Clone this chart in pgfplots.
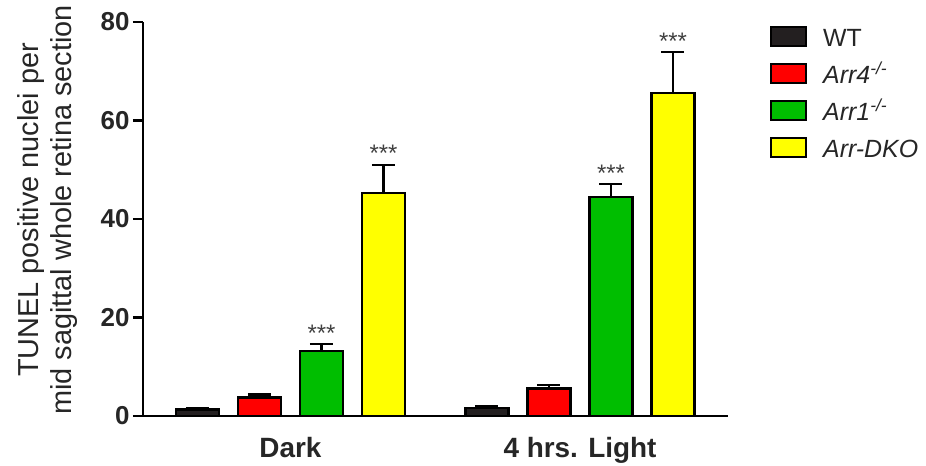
\documentclass[border=0pt]{standalone}
\usepackage{pgfplots}
\pgfplotsset{compat=1.18}
\usepackage{fontspec}
\setmainfont{Liberation Sans}
\definecolor{wtblack}{RGB}{35,31,32}
\definecolor{arrred}{RGB}{255,0,0}
\definecolor{arrgreen}{RGB}{0,190,0}
\definecolor{arryellow}{RGB}{255,255,0}
\definecolor{stargray}{RGB}{64,64,64}
\begin{document}
\begin{tikzpicture}
\path[use as bounding box] (-143bp,-50bp) rectangle (783bp,416bp);
\begin{axis}[
  at={(0,0)}, anchor=south west,
  scale only axis,
  width=585bp, height=394bp,
  xmin=-0.5095, xmax=1.5113,
  ymin=0, ymax=80,
  ytick={0,20,40,60,80},
  xtick={0,1},
  xticklabels={Dark,4 hrs. Light},
  axis x line=bottom, axis y line=left,
  axis line style={-, line width=2.5bp, black},
  xtick style={draw=none},
  ytick style={line width=2.5bp, black},
  tick align=outside,
  major tick length=10bp,
  /pgf/number format/assume math mode=true,
  yticklabel style={font=\fontsize{26}{26}\selectfont\bfseries, text=black!85},
  xticklabel style={font=\fontsize{28}{28}\selectfont\bfseries, text=black!85, anchor=base, inner sep=0pt, yshift=-31bp},
  ylabel={TUNEL positive nuclei per\\mid sagittal whole retina section},
  ylabel style={font=\fontsize{29}{33}\selectfont, text=black!85, align=center, inner sep=0pt,
    at={(axis description cs:-0.111,0.523)}, anchor=south},
  ybar,
  bar width=43bp,
  clip=false,
  legend style={at={(axis description cs:1.0718,1.009)}, anchor=north west, draw=none, fill=none,
    inner sep=0pt, row sep=0pt, column sep=16bp,
    font=\fontsize{25}{25}\selectfont,
    nodes={inner sep=0pt, text height=28bp, text depth=9bp, anchor=base west, text=black!85}},
  legend cell align=left,
  legend image code/.code={\draw[#1, line width=2bp] (0bp,0.5bp) rectangle (35bp,19.5bp);},
  error bars/y dir=plus,
  error bars/y explicit,
  error bars/error bar style={line width=2.5bp, black},
  error bars/error mark options={line width=2.5bp, black, mark size=11.5bp, rotate=90},
]
\addplot[fill=wtblack, draw=black, line width=2.5bp, bar shift=-93bp]
  coordinates {(0,1.3) +- (0,0.3) (1,1.6) +- (0,0.4)};
\addlegendentry{WT}
\addplot[fill=arrred, draw=black, line width=2.5bp, bar shift=-31bp]
  coordinates {(0,3.8) +- (0,0.6) (1,5.6) +- (0,0.7)};
\addlegendentry{\textit{Arr4\textsuperscript{-/-}}}
\addplot[fill=arrgreen, draw=black, line width=2.5bp, bar shift=31bp]
  coordinates {(0,13.2) +- (0,1.4) (1,44.5) +- (0,2.6)};
\addlegendentry{\textit{Arr1\textsuperscript{-/-}}}
\addplot[fill=arryellow, draw=black, line width=2.5bp, bar shift=93bp]
  coordinates {(0,45.3) +- (0,5.7) (1,65.6) +- (0,8.3)};
\addlegendentry{\textit{Arr-DKO}}
\node[anchor=base, xshift=31bp, yshift=3bp, font=\fontsize{24}{24}\selectfont, text=stargray, inner sep=0pt] at (axis cs:0,14.6) {***};
\node[anchor=base, xshift=93bp, yshift=3bp, font=\fontsize{24}{24}\selectfont, text=stargray, inner sep=0pt] at (axis cs:0,51.0) {***};
\node[anchor=base, xshift=31bp, yshift=3bp, font=\fontsize{24}{24}\selectfont, text=stargray, inner sep=0pt] at (axis cs:1,47.1) {***};
\node[anchor=base, xshift=93bp, yshift=3bp, font=\fontsize{24}{24}\selectfont, text=stargray, inner sep=0pt] at (axis cs:1,73.9) {***};
\end{axis}
\end{tikzpicture}
\end{document}
